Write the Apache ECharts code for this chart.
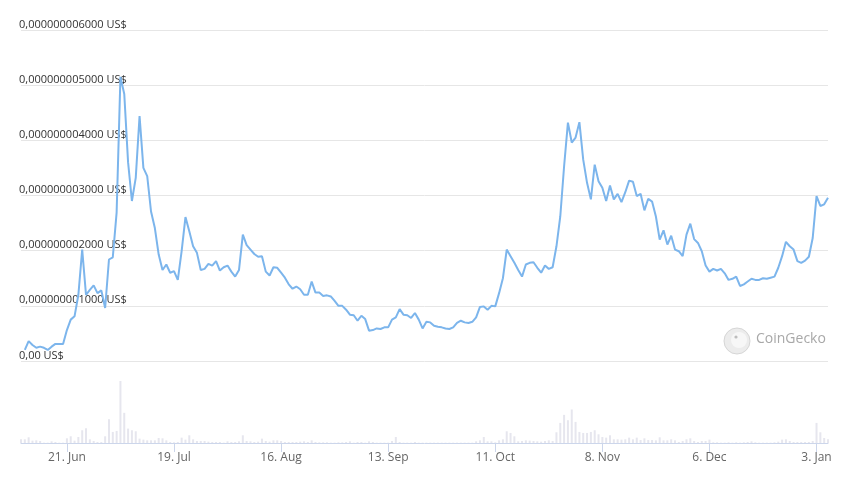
<!DOCTYPE html>
<html><head><meta charset="utf-8">
<script src="https://cdn.jsdelivr.net/npm/echarts@6/dist/echarts.min.js"></script>
<style>html,body{margin:0;padding:0;background:#fff}#c{width:854px;height:480px}</style>
</head><body><div id="c"></div>
<script>
// Categories: one per day, 9 Jun 2020 .. 6 Jan 2021
const startDate = '2020-06-09';
const dayCount = 212;
const categories = [];
(function(){
  const d0 = new Date(startDate + 'T00:00:00Z');
  for (let i = 0; i < dayCount; i++) {
    const d = new Date(d0.getTime() + i * 86400000);
    categories.push(d.toISOString().slice(0, 10));
  }
})();

// x-axis tick dates and labels
const tickDates  = ['2020-06-21','2020-07-19','2020-08-16','2020-09-13','2020-10-11','2020-11-08','2020-12-06','2021-01-03'];
const tickLabels = ['21. Jun','19. Jul','16. Aug','13. Sep','11. Oct','8. Nov','6. Dec','3. Jan'];

// y-axis (price, in units of 1e-9 US$)
const yMin = 0, yMax = 6, yStep = 1;

// price series, units of 1e-9 US$ (first day has no price)
const prices = [null,
 0.20,0.36,0.29,0.24,0.26,0.24,0.20,0.26,0.31,0.31,
 0.31,0.56,0.75,0.81,1.20,2.02,1.20,1.29,1.37,1.23,
 1.28,0.96,1.84,1.88,2.69,5.15,4.84,3.60,2.90,3.32,
 4.44,3.50,3.35,2.71,2.41,1.93,1.65,1.75,1.60,1.63,
 1.47,1.99,2.61,2.35,2.08,1.96,1.65,1.67,1.76,1.73,
 1.81,1.64,1.70,1.73,1.62,1.53,1.65,2.29,2.10,2.02,
 1.94,1.89,1.90,1.62,1.55,1.70,1.69,1.60,1.51,1.39,
 1.31,1.35,1.30,1.20,1.20,1.44,1.24,1.24,1.18,1.19,
 1.17,1.09,1.00,1.00,0.93,0.84,0.83,0.73,0.82,0.76,
 0.55,0.56,0.59,0.58,0.61,0.61,0.75,0.79,0.94,0.84,
 0.83,0.78,0.87,0.75,0.59,0.71,0.70,0.64,0.62,0.61,
 0.59,0.58,0.61,0.69,0.73,0.70,0.69,0.71,0.79,0.98,
 0.99,0.93,1.00,0.99,1.23,1.50,2.02,1.90,1.78,1.65,
 1.53,1.75,1.78,1.79,1.69,1.60,1.73,1.67,1.70,2.08,
 2.62,3.53,4.32,3.96,4.05,4.33,3.65,3.23,2.93,3.56,
 3.26,3.14,2.90,3.18,2.93,3.03,2.88,3.06,3.27,3.25,
 2.99,3.03,2.73,2.94,2.89,2.62,2.20,2.37,2.11,2.27,
 2.02,1.99,1.90,2.29,2.49,2.21,2.14,1.99,1.73,1.62,
 1.67,1.64,1.67,1.59,1.47,1.49,1.53,1.36,1.39,1.44,
 1.49,1.47,1.47,1.50,1.49,1.51,1.53,1.69,1.90,2.16,
 2.08,2.02,1.81,1.78,1.82,1.89,2.23,2.99,2.81,2.84,
 2.96];

// daily volume (relative units)
const volumes = [
 11,11,17,7,8,6,1,1,5,3,
 1,1,14,20,7,18,38,44,11,6,
 3,3,20,71,33,36,185,90,43,38,
 35,13,10,8,8,8,15,14,8,3,
 2,3,16,10,23,11,6,6,6,4,
 3,3,3,1,5,3,3,5,23,6,
 5,3,4,13,6,4,8,8,6,3,
 3,3,3,4,5,3,8,3,2,2,
 2,1,1,2,2,3,5,1,3,3,
 1,5,3,1,1,1,1,6,18,3,
 1,1,1,3,1,1,1,1,1,1,
 1,1,1,1,1,1,1,1,1,5,
 8,18,5,5,2,8,11,35,30,20,
 5,6,8,7,6,5,4,6,8,6,
 32,60,84,68,100,63,33,30,30,33,
 38,26,18,16,23,11,11,10,11,16,
 11,16,9,14,9,9,8,17,8,8,
 11,8,3,6,11,14,6,3,6,6,
 10,2,2,1,1,2,1,2,1,2,
 3,5,2,1,1,1,1,2,4,10,
 11,6,3,3,3,3,3,6,60,32,
 15,11];

const isTick = (idx) => tickDates.indexOf(categories[idx]) >= 0;
const labelFor = (val) => { const k = tickDates.indexOf(val); return k >= 0 ? tickLabels[k] : ''; };
const fmtPrice = (v) => v === 0 ? '0,00 US$' : (v * 1e-9).toFixed(12).replace('.', ',') + ' US$';

const chart = echarts.init(document.getElementById('c'), null, {renderer: 'canvas'});
chart.setOption({
  animation: false,
  backgroundColor: '#ffffff',
  textStyle: {fontFamily: 'Open Sans'},
  grid: [
    {left: 21, right: 26, top: 30, height: 331},
    {left: 21, right: 26, top: 381, height: 62}
  ],
  xAxis: [
    {type: 'category', gridIndex: 0, data: categories, boundaryGap: false,
     axisLine: {show: false}, axisTick: {show: false}, axisLabel: {show: false}, splitLine: {show: false}},
    {type: 'category', gridIndex: 1, data: categories, boundaryGap: false,
     axisLine: {show: true, lineStyle: {color: '#ccd6eb', width: 1}},
     axisTick: {show: true, length: 9, interval: (i) => isTick(i), lineStyle: {color: '#ccd6eb'}},
     axisLabel: {show: true, interval: (i) => isTick(i), formatter: labelFor, color: '#666666',
                 fontSize: 12, fontFamily: 'Open Sans', margin: 9},
     splitLine: {show: false}}
  ],
  yAxis: [
    {type: 'value', gridIndex: 0, min: yMin, max: yMax, interval: yStep,
     axisLine: {show: false}, axisTick: {show: false},
     axisLabel: {inside: true, margin: -2, verticalAlign: 'bottom', color: '#333333',
                 fontSize: 11, fontFamily: 'Open Sans', formatter: fmtPrice},
     splitLine: {show: true, lineStyle: {color: '#e6e6e6', width: 1}}},
    {type: 'value', gridIndex: 1, min: 0, max: 'dataMax',
     axisLine: {show: false}, axisTick: {show: false}, axisLabel: {show: false}, splitLine: {show: false}}
  ],
  series: [
    {type: 'line', xAxisIndex: 0, yAxisIndex: 0, data: prices, showSymbol: false, symbol: 'none',
     lineStyle: {color: '#7cb5ec', width: 2}, connectNulls: false, z: 3},
    {type: 'bar', xAxisIndex: 1, yAxisIndex: 1, data: volumes, barWidth: 2,
     itemStyle: {color: '#e6e6ee'}}
  ],
  graphic: [
    {type: 'circle', shape: {cx: 737, cy: 341, r: 13}, style: {fill: '#ececec', stroke: '#d6d6d6', lineWidth: 1}},
    {type: 'circle', shape: {cx: 739, cy: 340, r: 8}, style: {fill: '#f7f7f7'}},
    {type: 'circle', shape: {cx: 736, cy: 337, r: 1.6}, style: {fill: '#bdbdbd'}},
    {type: 'text', left: 756, top: 332, style: {text: 'CoinGecko', fill: '#a8a8a8', fontSize: 14, fontFamily: 'Open Sans'}}
  ]
});
</script>
</body></html>
